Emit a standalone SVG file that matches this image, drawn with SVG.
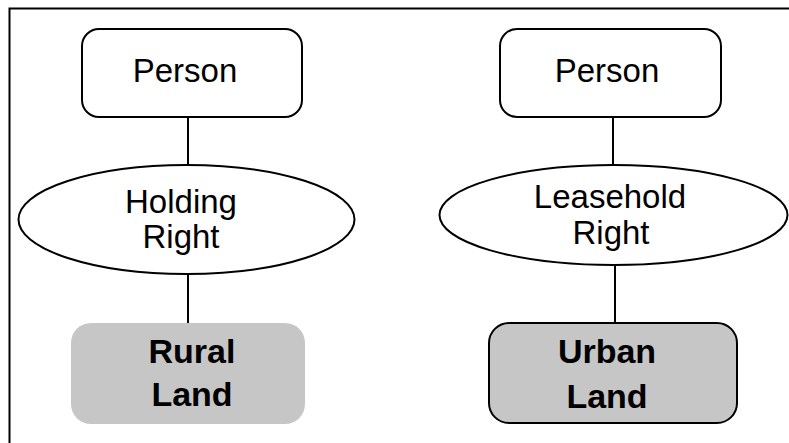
<svg xmlns="http://www.w3.org/2000/svg" width="789" height="443" viewBox="0 0 789 443">
<style>
.n{fill:#fff;stroke:#000;stroke-width:2}
.t{font-family:"Liberation Sans",Arial,sans-serif;font-size:33px;fill:#000;text-anchor:middle}
.b{font-family:"Liberation Sans",Arial,sans-serif;font-size:34px;font-weight:bold;fill:#000;text-anchor:middle}
.c{stroke:#000;stroke-width:2;fill:none}
</style>
<rect x="0" y="0" width="789" height="443" fill="#fff"/>
<path d="M9.5,444 V8.5 H790" fill="none" stroke="#000" stroke-width="2"/>
<g id="connectors">
<line class="c" x1="188" y1="117" x2="188" y2="165"/>
<line class="c" x1="188" y1="274" x2="188" y2="323"/>
<line class="c" x1="613" y1="117" x2="613" y2="165"/>
<line class="c" x1="615" y1="265" x2="615" y2="323"/>
</g>
<g id="person1">
<rect class="n" x="82" y="29" width="220" height="88" rx="17"/>
<text class="t" x="185" y="82">Person</text>
</g>
<g id="holding">
<ellipse class="n" cx="186.5" cy="219.5" rx="168" ry="54.5"/>
<text class="t" x="181" y="213">Holding</text>
<text class="t" x="181" y="248">Right</text>
</g>
<g id="rural">
<rect x="71" y="323" width="234" height="101" rx="20" fill="#c6c6c6"/>
<text class="b" x="192" y="363">Rural</text>
<text class="b" x="192" y="406">Land</text>
</g>
<g id="person2">
<rect class="n" x="500" y="29" width="221" height="88" rx="17"/>
<text class="t" x="607" y="82">Person</text>
</g>
<g id="leasehold">
<ellipse class="n" cx="613.5" cy="215" rx="174" ry="50"/>
<text class="t" x="610" y="208">Leasehold</text>
<text class="t" x="611" y="244">Right</text>
</g>
<g id="urban">
<rect x="489" y="323" width="248" height="100" rx="20" fill="#c6c6c6" stroke="#000" stroke-width="2"/>
<text class="b" x="607" y="363">Urban</text>
<text class="b" x="607" y="408">Land</text>
</g>
</svg>
